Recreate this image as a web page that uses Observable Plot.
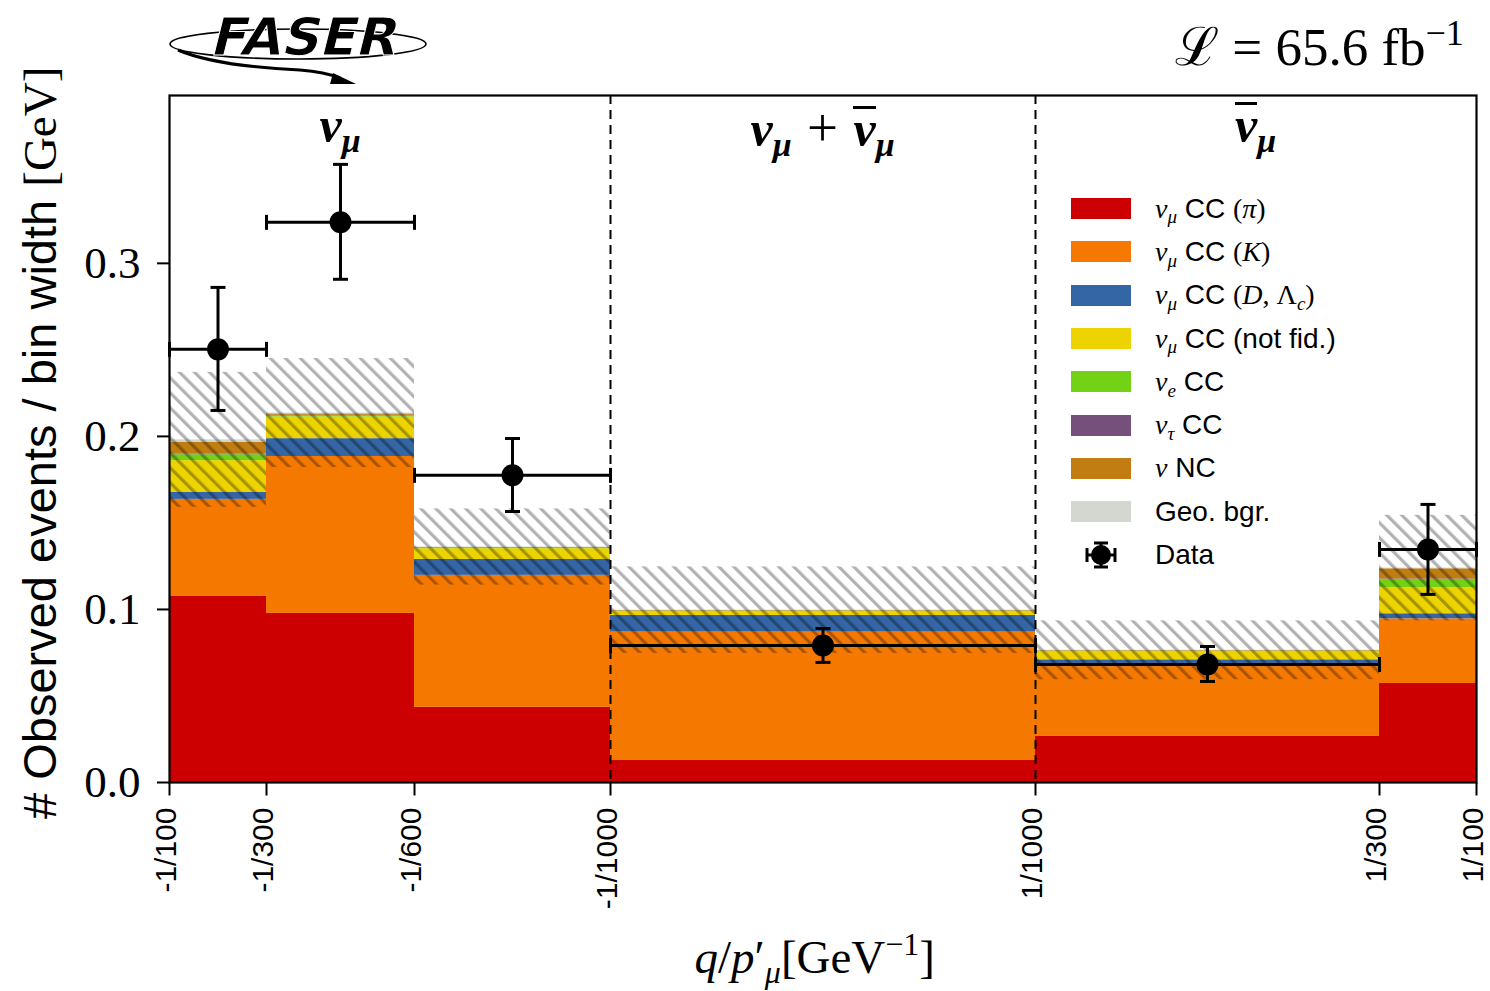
<!DOCTYPE html>
<html><head><meta charset="utf-8">
<script src="https://cdn.jsdelivr.net/npm/d3@7"></script>
<script src="https://cdn.jsdelivr.net/npm/@observablehq/plot@0.6"></script>
<style>
body{margin:0;background:#fff;}
#wrap{position:relative;width:1490px;height:991px;overflow:hidden;}
.abs{position:absolute;white-space:nowrap;line-height:1;}
.serif{font-family:"Liberation Serif","DejaVu Serif",serif;}
.mi{font-family:"Liberation Serif","DejaVu Serif",serif;font-style:italic;}
.sans{font-family:"Liberation Sans",Arial,sans-serif;}
.sub{font-size:0.68em;position:relative;top:0.3em;}
.sup{font-size:0.68em;position:relative;top:-0.55em;}
.bar{display:inline-block;border-top:0.07em solid #000;line-height:0.8;}
.op{font-weight:normal;font-style:normal;font-size:1.1em;margin:0 0.28em;}
</style></head><body><div id="wrap"></div>
<script>
// ---- bin layout (axis display units) and tick labels ----
const binEdges = [0, 97, 245, 441, 866, 1210, 1307];
const edgeLabels = ["-1/100", "-1/300", "-1/600", "-1/1000", "1/1000", "1/300", "1/100"];

// ---- stacked MC components, events / bin width, one value per bin ----
const numuPi    = [0.1075, 0.0977, 0.0434, 0.0127, 0.0266, 0.0572];
const numuK     = [0.0561, 0.0907, 0.0763, 0.0742, 0.0404, 0.0374];
const numuD     = [0.0042, 0.0103, 0.0092, 0.0096, 0.0039, 0.0029];
const numuNotFid= [0.0182, 0.0125, 0.0062, 0.0025, 0.0050, 0.0150];
const nueCC     = [0.0034, 0.0008, 0.0003, 0.0001, 0.0001, 0.0048];
const nutauCC   = [0.0003, 0.0002, 0.0001, 0.0001, 0.0001, 0.0003];
const nuNC      = [0.0070, 0.0008, 0.0003, 0.0002, 0.0002, 0.0059];
const geoBgr    = [0.0013, 0.0005, 0.0003, 0.0002, 0.0001, 0.0004];
const mcUncert  = [0.0390, 0.0315, 0.0220, 0.0250, 0.0170, 0.0305];

// ---- data ----
const dataVal   = [0.2503, 0.3237, 0.1775, 0.0792, 0.0682, 0.1347];
const dataErrLo = [0.0353, 0.0329, 0.0209, 0.0098, 0.0098, 0.0260];
const dataErrHi = [0.0358, 0.0335, 0.0213, 0.0098, 0.0104, 0.0260];

// ---- legend / styling ----
const compNames = ["numuPi","numuK","numuD","numuNotFid","nueCC","nutauCC","nuNC","geoBgr"];
const compColors = ["#cc0000","#f57900","#3465a4","#edd400","#73d216","#75507b","#c17d11","#d3d7cf"];
const compLegend = [
  '<span class="mi">ν<span class="sub">μ</span></span> CC <span class="serif">(<i>π</i>)</span>',
  '<span class="mi">ν<span class="sub">μ</span></span> CC <span class="serif">(<i>K</i>)</span>',
  '<span class="mi">ν<span class="sub">μ</span></span> CC <span class="serif">(<i>D</i>, Λ<span class="sub"><i>c</i></span>)</span>',
  '<span class="mi">ν<span class="sub">μ</span></span> CC (not fid.)',
  '<span class="mi">ν<span class="sub">e</span></span> CC',
  '<span class="mi">ν<span class="sub">τ</span></span> CC',
  '<span class="mi">ν</span> NC',
  'Geo. bgr.'
];
const regionLabels = [
  '<span>ν<span class="sub">μ</span></span>',
  '<span>ν<span class="sub">μ</span></span><span class="op">+</span><span><span class="bar">ν</span><span class="sub">μ</span></span>',
  '<span><span class="bar">ν</span><span class="sub">μ</span></span>'
];
const regionLabelX = [171, 653.5, 1086.5];

const compValues = [numuPi, numuK, numuD, numuNotFid, nueCC, nutauCC, nuNC, geoBgr];

// build stack table
const stackRows = [];
const bins = [];
for (let i = 0; i < 6; i++) {
  let cum = 0;
  compValues.forEach((arr, c) => {
    stackRows.push({x1: binEdges[i], x2: binEdges[i+1], y1: cum, y2: cum + arr[i], color: compColors[c]});
    cum += arr[i];
  });
  bins.push({x1: binEdges[i], x2: binEdges[i+1], lo: cum - mcUncert[i], hi: cum + mcUncert[i]});
}
const dataRows = dataVal.map((v, i) => ({
  x: (binEdges[i] + binEdges[i+1]) / 2, x1: binEdges[i], x2: binEdges[i+1],
  y: v, y1: v - dataErrLo[i], y2: v + dataErrHi[i]
}));

const hcap = {draw(ctx, size) { const r = Math.sqrt(size / Math.PI); ctx.moveTo(-r, 0); ctx.lineTo(r, 0); }};
const vcap = {draw(ctx, size) { const r = Math.sqrt(size / Math.PI); ctx.moveTo(0, -r); ctx.lineTo(0, r); }};

const serif = '"Liberation Serif","DejaVu Serif",serif';
const sans = '"Liberation Sans",Arial,sans-serif';

const plot = Plot.plot({
  width: 1490, height: 991,
  marginLeft: 169, marginRight: 14, marginTop: 95, marginBottom: 209,
  style: {background: "white", color: "black"},
  x: {domain: [binEdges[0], binEdges[binEdges.length-1]], axis: null},
  y: {domain: [0, 0.397]},
  color: {type: "identity"},
  marks: [
    Plot.rect(stackRows, {x1: "x1", x2: "x2", y1: "y1", y2: "y2", fill: "color"}),
    Plot.rect(bins, {x1: "x1", x2: "x2", y1: "lo", y2: "hi", fill: "url(#hatch)"}),
    Plot.ruleX([binEdges[3], binEdges[4]], {stroke: "black", strokeWidth: 2, strokeDasharray: "9,6"}),
    Plot.ruleY(dataRows, {y: "y", x1: "x1", x2: "x2", stroke: "black", strokeWidth: 3}),
    Plot.ruleX(dataRows, {x: "x", y1: "y1", y2: "y2", stroke: "black", strokeWidth: 3}),
    Plot.dot(dataRows, {x: "x", y: "y1", symbol: hcap, r: 7.5, stroke: "black", strokeWidth: 3, fill: "none"}),
    Plot.dot(dataRows, {x: "x", y: "y2", symbol: hcap, r: 7.5, stroke: "black", strokeWidth: 3, fill: "none"}),
    Plot.dot(dataRows, {x: "x1", y: "y", symbol: vcap, r: 7.5, stroke: "black", strokeWidth: 3, fill: "none"}),
    Plot.dot(dataRows, {x: "x2", y: "y", symbol: vcap, r: 7.5, stroke: "black", strokeWidth: 3, fill: "none"}),
    Plot.dot(dataRows, {x: "x", y: "y", r: 11, fill: "black", stroke: "none"}),
    Plot.axisY({ticks: [0, 0.1, 0.2, 0.3], tickFormat: d3.format(".1f"), tickSize: 12, tickPadding: 17,
      fontSize: 45, fontFamily: serif, strokeWidth: 2, label: null}),
    // x-axis ticks at bin edges
    Plot.dot(binEdges, {x: d => d, y: () => 0, symbol: vcap, r: 6.5, dy: 6.5, stroke: "black", strokeWidth: 2, fill: "none"}),
    // x-axis tick labels
    Plot.text(binEdges, {x: d => d, text: d => edgeLabels[binEdges.indexOf(d)], frameAnchor: "bottom",
      rotate: -90, textAnchor: "end", lineAnchor: "middle", dy: 25, dx: -3, fontSize: 30, fontFamily: sans, fill: "black"}),
    Plot.frame({stroke: "black", strokeWidth: 2.2})
  ]
});

d3.select(plot).insert("defs", ":first-child").html(
  `<pattern id="hatch" patternUnits="userSpaceOnUse" width="10.6" height="10.6" patternTransform="rotate(-45)">
     <rect x="0" y="0" width="3.2" height="10.6" fill="black" fill-opacity="0.3"></rect>
   </pattern>`);

const wrap = document.getElementById("wrap");
wrap.appendChild(plot);
plot.style.position = "absolute"; plot.style.left = "0"; plot.style.top = "0";

const xs = plot.scale("x");
function add(html, css) {
  const d = document.createElement("div");
  d.className = "abs";
  d.innerHTML = html;
  Object.assign(d.style, css);
  wrap.appendChild(d);
  return d;
}

// region labels
regionLabels.forEach((h, i) => {
  const d = add(h, {top: "100px", fontFamily: serif, fontStyle: "italic", fontWeight: "bold", fontSize: "50px"});
  d.style.left = (xs.apply(regionLabelX[i]) - d.offsetWidth / 2) + "px";
});

// luminosity
const lum = add('<span style="font-family:\'DejaVu Serif\',serif;font-style:normal">ℒ</span>&nbsp;=&nbsp;65.6&nbsp;fb<span class="sup">−1</span>',
  {top: "20px", fontFamily: serif, fontSize: "53px"});
lum.style.left = (1464 - lum.offsetWidth) + "px";

// y-axis label
const yl = add('# Observed events / bin width <span class="serif">[GeV]</span>',
  {fontFamily: sans, fontSize: "47px", transformOrigin: "0 0"});
yl.style.left = "16px";
yl.style.top = (443 + yl.offsetWidth / 2) + "px";
yl.style.transform = "rotate(-90deg)";

// x-axis label
const xlab = add('<i>q</i>/<i>p</i>′<span class="sub"><i>μ</i></span>[GeV<span class="sup">−1</span>]',
  {top: "934px", fontFamily: serif, fontSize: "47px"});
xlab.style.left = (xs.apply((binEdges[0] + binEdges[6]) / 2) - 8 - xlab.offsetWidth / 2) + "px";

// legend
const leg = add("", {left: "1071px", top: "187px", fontFamily: sans, fontSize: "28px"});
compLegend.forEach((h, i) => {
  const row = document.createElement("div");
  row.style.cssText = "height:43.3px;display:flex;align-items:center;";
  row.innerHTML = `<span style="display:inline-block;width:60px;height:21px;background:${compColors[i]};margin-right:24px"></span><span>${h}</span>`;
  leg.appendChild(row);
});
const drow = document.createElement("div");
drow.style.cssText = "height:43.3px;display:flex;align-items:center;";
drow.innerHTML = `<svg width="60" height="30" style="margin-right:24px"><g stroke="black" stroke-width="3">
  <line x1="16" y1="15" x2="44" y2="15"/><line x1="30" y1="3" x2="30" y2="27"/>
  <line x1="16" y1="8" x2="16" y2="22"/><line x1="44" y1="8" x2="44" y2="22"/>
  <line x1="23" y1="3" x2="37" y2="3"/><line x1="23" y1="27" x2="37" y2="27"/></g>
  <circle cx="30" cy="15" r="10" fill="black"/></svg><span>Data</span>`;
leg.appendChild(drow);

// FASER logo
add(`<svg width="300" height="92" viewBox="160 0 300 92">
  <ellipse cx="298" cy="44" rx="128" ry="15" fill="none" stroke="black" stroke-width="1.6"/>
  <path d="M178,50 Q215,66 300,70 Q325,72 340,78" fill="none" stroke="black" stroke-width="3"/>
  <path d="M333,73 L356,84 L330,84 Z" fill="black"/>
  <g transform="translate(302,55) skewX(-14)">
  <text x="0" y="0" text-anchor="middle" font-family="DejaVu Sans" font-weight="bold"
    font-size="52" textLength="186" lengthAdjust="spacingAndGlyphs" fill="black" stroke="white" stroke-width="1">FASER</text></g>
</svg>`, {left: "160px", top: "0px"});
</script></body></html>
